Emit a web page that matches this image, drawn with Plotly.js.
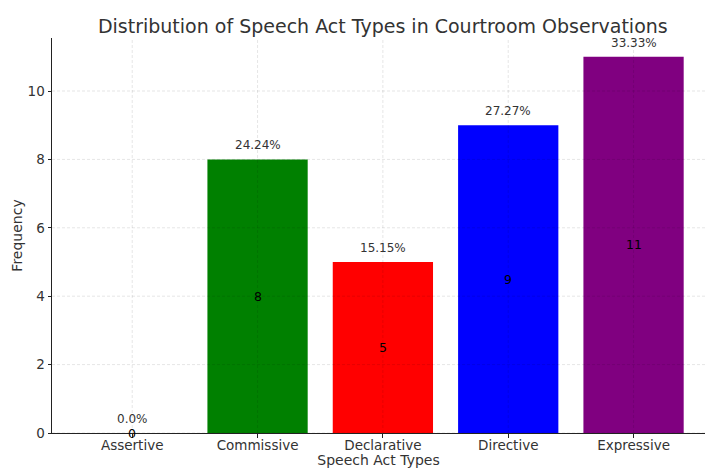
<!DOCTYPE html>
<html>
<head>
<meta charset="utf-8">
<script src="https://cdn.plot.ly/plotly-3.0.1.min.js"></script>
<style>html,body{margin:0;padding:0;background:#fff;}#chart{width:705px;height:468px;}</style>
</head>
<body>
<div id="chart"></div>
<script>
const categories = ["Assertive", "Commissive", "Declarative", "Directive", "Expressive"];
const counts = [0, 8, 5, 9, 11];
const percentLabels = ["0.0%", "24.24%", "15.15%", "27.27%", "33.33%"];
const barColors = ["#1f77b4", "#008000", "#ff0000", "#0000ff", "#800080"];
const yTicks = [0, 2, 4, 6, 8, 10];

const font = "DejaVu Sans, sans-serif";

const trace = {
  type: "bar",
  x: categories,
  y: counts,
  width: 0.8,
  marker: { color: barColors, line: { width: 0 } },
  hoverinfo: "skip"
};

const annotations = [];
categories.forEach((c, i) => {
  annotations.push({
    x: c, y: counts[i], xref: "x", yref: "y",
    text: percentLabels[i], showarrow: false,
    yanchor: "bottom", yshift: 5,
    font: { family: font, size: 12, color: "#333" }
  });
  annotations.push({
    x: c, y: counts[i] / 2, xref: "x", yref: "y",
    text: String(counts[i]), showarrow: false,
    yanchor: "middle",
    font: { family: font, size: 12.5, color: "#000" }
  });
});

const gridStyle = { color: "rgba(0,0,0,0.13)", width: 0.8, dash: "3px,2px" };
const shapes = [];
categories.forEach(c => {
  shapes.push({ type: "line", xref: "x", yref: "paper", x0: c, x1: c, y0: 0, y1: 1, layer: "above", line: gridStyle });
});
yTicks.forEach(v => {
  shapes.push({ type: "line", xref: "paper", yref: "y", x0: 0, x1: 1, y0: v, y1: v, layer: "above", line: gridStyle });
});

const layout = {
  width: 705, height: 468,
  margin: { l: 52, r: 0, t: 38, b: 35 },
  paper_bgcolor: "#fff", plot_bgcolor: "#fff",
  showlegend: false,
  title: {
    text: "Distribution of Speech Act Types in Courtroom Observations",
    font: { family: font, size: 19, color: "#333" },
    x: 0.543, xanchor: "center", xref: "container",
    y: 0.943, yanchor: "middle", yref: "container"
  },
  xaxis: {
    type: "category",
    range: [-0.64, 4.57],
    showgrid: false, zeroline: false,
    showline: true, linecolor: "#222", linewidth: 1,
    ticks: "outside", ticklen: 3.5, tickcolor: "#222", tickwidth: 1,
    ticklabelstandoff: -4,
    tickfont: { family: font, size: 13.5, color: "#333" },
    title: { text: "Speech Act Types", font: { family: font, size: 14, color: "#333" }, standoff: 0 }
  },
  yaxis: {
    range: [0, 11.55],
    tickvals: yTicks,
    showgrid: false, zeroline: false,
    showline: true, linecolor: "#222", linewidth: 1,
    ticks: "outside", ticklen: 3.5, tickcolor: "#222", tickwidth: 1,
    tickfont: { family: font, size: 13.5, color: "#333" },
    title: { text: "Frequency", font: { family: font, size: 14, color: "#333" }, standoff: 1 }
  },
  annotations: annotations,
  shapes: shapes
};

Plotly.newPlot("chart", [trace], layout, { displayModeBar: false, staticPlot: true });
</script>
</body>
</html>
